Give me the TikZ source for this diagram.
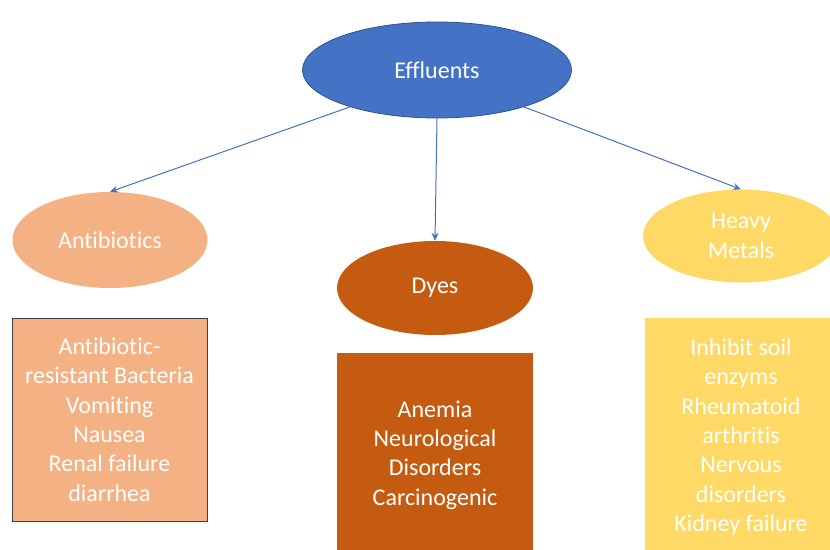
\documentclass[tikz,border=0pt]{standalone}
\usepackage{fontspec}
\setmainfont{Carlito}[Ligatures={NoCommon}]
\usetikzlibrary{shapes.geometric,arrows.meta}
\definecolor{effblue}{HTML}{4472C4}
\definecolor{effedge}{HTML}{2F528F}
\definecolor{abcol}{HTML}{F4B183}
\definecolor{dyecol}{HTML}{C55A11}
\definecolor{hmcol}{HTML}{FFD966}
\begin{document}
\begin{tikzpicture}[x=1pt,y=-1pt,
  txt/.style={text=white,font=\fontsize{24}{29.4}\selectfont,align=center},
  oval/.style={ellipse,inner sep=0pt,txt},
  panel/.style={rectangle,inner sep=0pt,txt},
  link/.style={draw=effblue,line width=1pt,-{Stealth[length=8pt,width=7pt]}}]
\useasboundingbox (0,0) rectangle (830,549);
\clip (0,0) rectangle (830,549);
\node[oval,fill=effblue,draw=effedge,line width=0.8pt,minimum width=269pt,minimum height=96pt] (eff) at (437,70) {Effluents};
\node[oval,fill=abcol,minimum width=195pt,minimum height=96pt] (ab) at (110,240) {Antibiotics};
\node[oval,fill=dyecol,minimum width=196pt,minimum height=94pt] (dye) at (435,288) {Dyes};
\node[oval,fill=hmcol,minimum width=196pt,minimum height=93pt] (hm) at (741,236) {Heavy\\Metals};
\node[panel,fill=abcol,draw=black!75,line width=0.8pt,minimum width=195pt,minimum height=203pt] (abbox) at (109.5,419.5) {Antibiotic-\\resistant Bacteria\\Vomiting\\Nausea\\Renal failure\\diarrhea};
\node[panel,fill=dyecol,minimum width=196pt,minimum height=200pt] (dyebox) at (435,453) {};
\node[txt] (dyetxt) at (435,455) {Anemia\\Neurological\\Disorders\\Carcinogenic};
\node[panel,fill=hmcol,minimum width=196pt,minimum height=240pt] (hmbox) at (743,438) {};
\node[txt] (hmtxt) at (741,437) {Inhibit soil\\enzyms\\Rheumatoid\\arthritis\\Nervous\\disorders\\Kidney failure};
\draw[link] (eff.203) -- (ab.north);
\draw[link] (eff.south) -- (dye.north);
\draw[link] (eff.337) -- (hm.north);
\end{tikzpicture}
\end{document}
